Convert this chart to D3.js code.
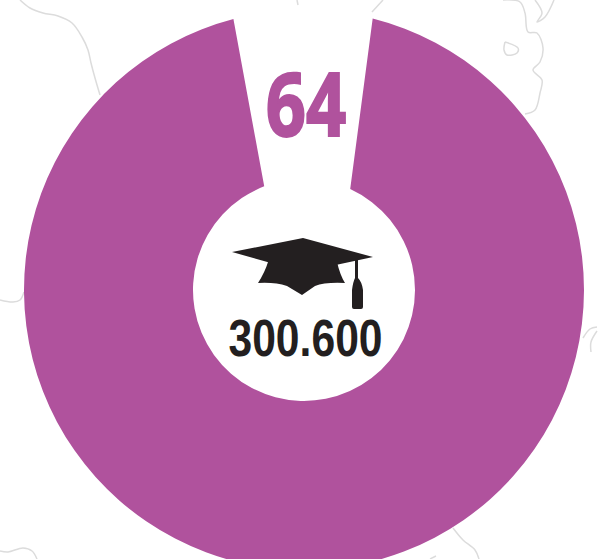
<!DOCTYPE html>
<html>
<head>
<meta charset="utf-8">
<script src="https://cdnjs.cloudflare.com/ajax/libs/d3/7.8.5/d3.min.js"></script>
<style>
  html, body { margin: 0; padding: 0; background: #fff; }
</style>
</head>
<body>
<div id="chart"></div>
<script>
// values
var count = ["64"];
var total = ["300.600"];
// the ring is open at the top, the notch is wider at the hole than at the rim (degrees from 12 o'clock)
var notchOuter = [-14.6, 14.2];
var notchInner = [-21, 24.6];

// faint map outlines behind the ring
var mapLines = [
  [[20,0],[30,8],[43,13],[58,16],[72,23],[82,37],[88,50],[91,63],[95,78],[100,95]],
  [[0,300],[13,302],[20,300],[24,292]],
  [[583,338],[590,329],[597,327]],
  [[597,331],[591,342],[591,352]],
  [[0,551],[8,552],[23,548],[32,551],[37,559]],
  [[453,528],[463,540],[475,550],[479,559]],
  [[430,559],[436,556]],
  [[297,0],[298,5]],
  [[383,0],[372,12]],
  [[503,0],[520,2],[525,13],[528,32],[537,33],[543,48],[540,62],[533,70],[542,80],[540,93],[535,110],[525,114]],
  [[535,0],[542,13],[537,22],[545,17],[554,0]],
  [[505,42],[518,48],[517,53],[507,55],[504,50],[505,42]]
];

var width = 598,
    height = 559,
    cx = 304,
    cy = 290,
    innerRadius = 111,
    outerRadius = 280;

var svg = d3.select("#chart")
  .append("svg")
    .attr("width", width)
    .attr("height", height)
    .style("display", "block");

svg.append("g")
  .selectAll("path")
  .data(mapLines)
  .enter()
  .append("path")
    .attr("fill", "none")
    .attr("stroke", "#dcdcdc")
    .attr("stroke-width", 1.5)
    .attr("d", d3.line().curve(d3.curveCatmullRom));

var g = svg.append("g")
    .attr("transform", "translate(" + cx + "," + cy + ")");

var angle = d3.scaleLinear().domain([0, 360]).range([0, 2 * Math.PI]);

// canvas angles start at 3 o'clock, so shift by a quarter turn
function toCanvas(deg) { return angle(deg - 90); }

var ring = d3.path();
ring.arc(0, 0, outerRadius, toCanvas(notchOuter[1]), toCanvas(notchOuter[0] + 360));
ring.arc(0, 0, innerRadius, toCanvas(notchInner[0] + 360), toCanvas(notchInner[1]), true);
ring.closePath();

g.append("path")
    .attr("fill", "#b0529d")
    .attr("d", ring.toString());

// big number in the notch
svg.append("text")
    .attr("transform", "translate(306,136) scale(0.8,1)")
    .attr("text-anchor", "middle")
    .attr("font-family", "'Open Sans', sans-serif")
    .attr("font-weight", 700)
    .attr("font-size", 88)
    .attr("fill", "#b0529d")
    .attr("stroke", "#b0529d")
    .attr("stroke-width", 2)
    .text(count[0]);

// graduation cap
var hat = svg.append("g").attr("fill", "#231f20");
hat.append("path").attr("d", "M232,252 L303,238 L373,257 L303,272 Z");
hat.append("path").attr("d", "M268,262 L337,262 Q340,275 345,283 Q325,282 315,286 L302,295 L287,286 Q275,282 258,283 Q265,272 268,262 Z");
hat.append("path").attr("d", "M355,258 L358,258 L358,278 Q362,282 363,290 L363,307 Q363,309 361,309 L354,309 Q352,309 352,307 L352,290 Q353,282 355,278 Z");

svg.append("text")
    .attr("transform", "translate(305.5,356) scale(0.82,1)")
    .attr("text-anchor", "middle")
    .attr("font-family", "'Liberation Sans', sans-serif")
    .attr("font-weight", 700)
    .attr("font-size", 52)
    .attr("fill", "#231f20")
    .text(total[0]);
</script>
</body>
</html>
